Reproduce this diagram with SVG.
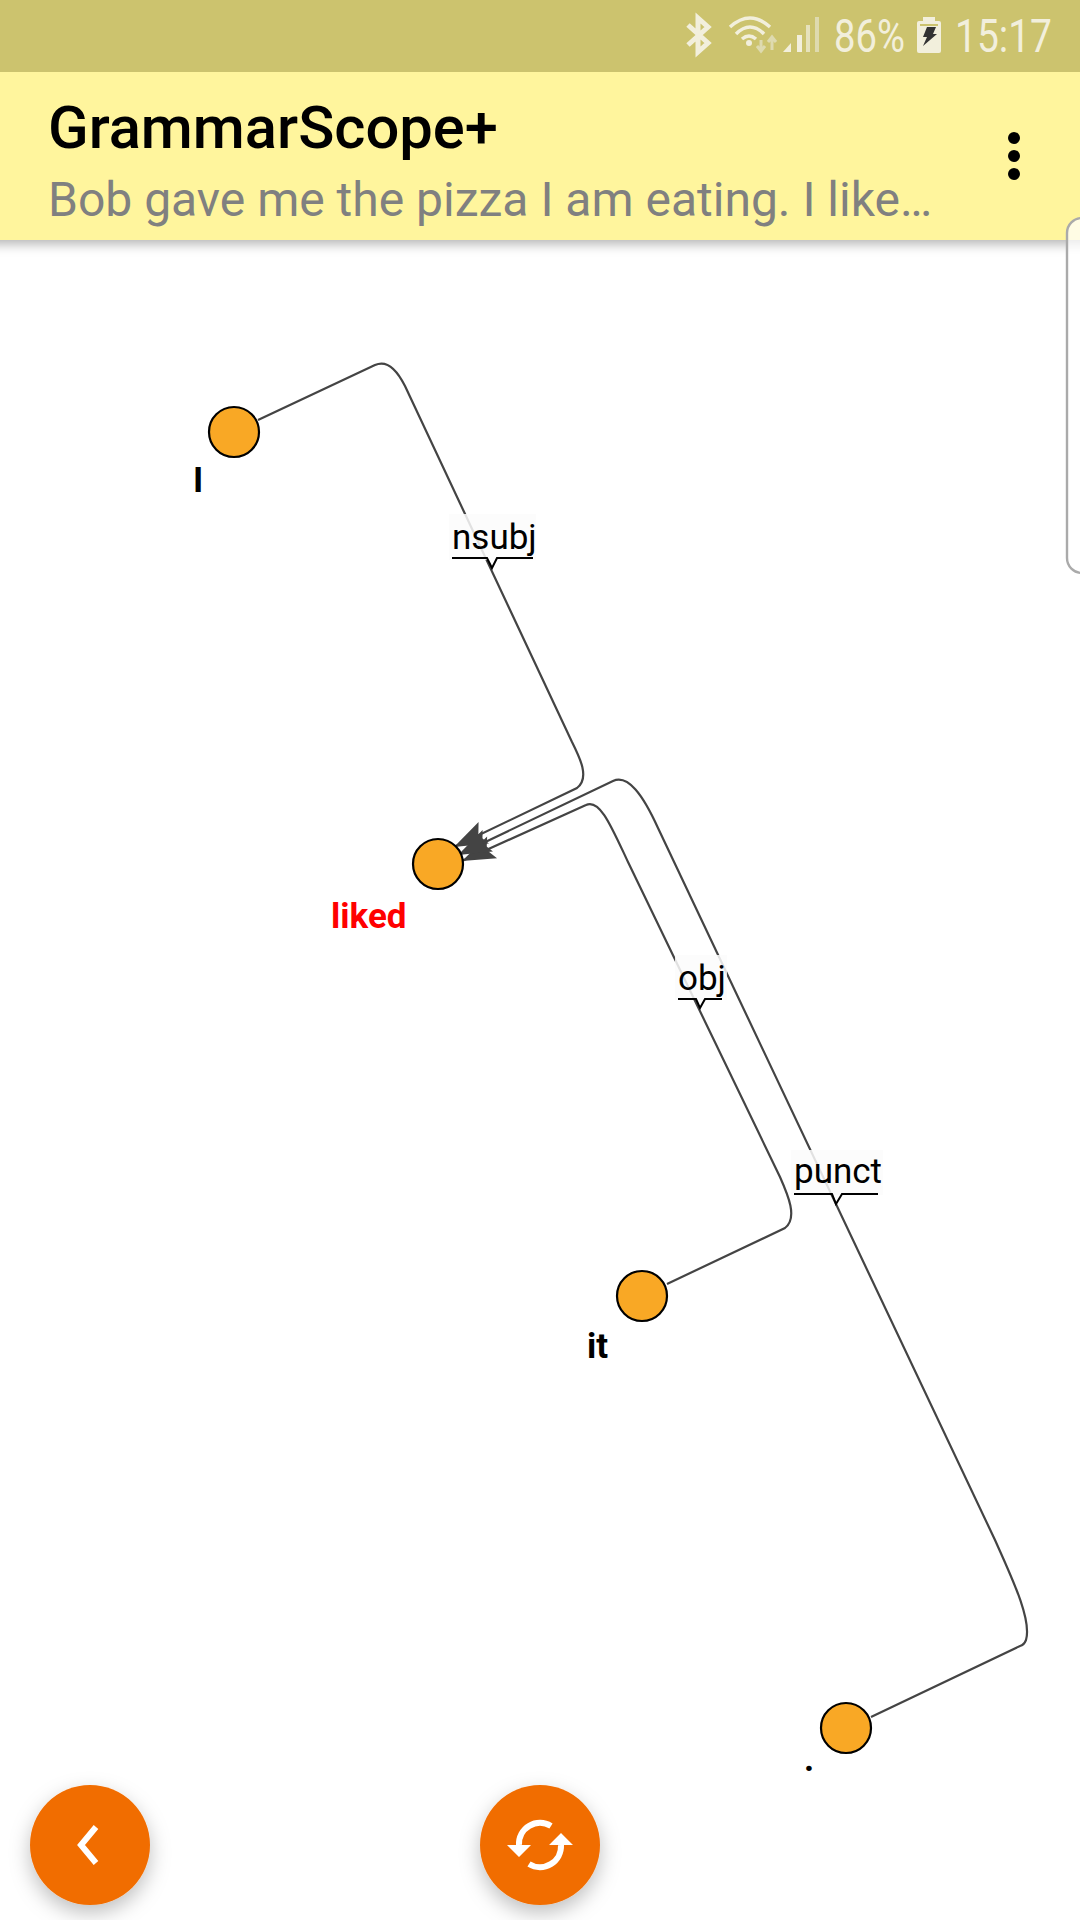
<svg xmlns="http://www.w3.org/2000/svg" width="1080" height="1920" viewBox="0 0 1080 1920">
<defs>
<style>
.edge{fill:none;stroke:#444;stroke-width:2.2}
.node{fill:#F9A825;stroke:#000;stroke-width:2.2}
.nl{font-family:Roboto,"Liberation Sans",sans-serif;font-weight:700;font-size:35px;fill:#000}
.el{font-family:Roboto,"Liberation Sans",sans-serif;font-size:35px;fill:#000}
.bg{fill:#fbfbfb;fill-opacity:.86}
.tick{fill:none;stroke:#000;stroke-width:2}
.st{font-family:Roboto,"Liberation Sans",sans-serif;font-size:47px;fill:#F2EFDC}
</style>
<marker id="arrow" markerUnits="userSpaceOnUse" markerWidth="40" markerHeight="32" refX="36" refY="16" orient="auto" overflow="visible">
<path d="M36,16 L3,4 L9,16 L3,28 Z" fill="#444"/>
</marker>
<filter id="barShadow" x="-5%" y="-20%" width="110%" height="150%"><feDropShadow dx="0" dy="4" stdDeviation="6" flood-color="#000" flood-opacity=".3"/></filter>
<filter id="fabShadow" x="-40%" y="-40%" width="180%" height="190%"><feDropShadow dx="0" dy="8" stdDeviation="10" flood-color="#000" flood-opacity=".25"/></filter>
</defs>
<rect width="1080" height="1920" fill="#fff"/>

<g id="app-bar">
<rect x="-20" y="72" width="1120" height="168" fill="#FFF59D" filter="url(#barShadow)"/>
<rect x="0" y="0" width="1080" height="72" fill="#CCC36E"/>
<text x="48" y="148" font-family="Roboto,'Liberation Sans',sans-serif" font-weight="500" font-size="59.7" fill="#000">GrammarScope+</text>
<text x="48" y="216" font-family="Roboto,'Liberation Sans',sans-serif" font-size="48" fill="#808080">Bob gave me the pizza I am eating. I like…</text>
<circle cx="1014" cy="138" r="6"/><circle cx="1014" cy="156" r="6"/><circle cx="1014" cy="174" r="6"/>
</g>

<g id="side-panel"><rect x="1067" y="218" width="40" height="355" rx="15" fill="#fff" fill-opacity=".72" stroke="#aaa" stroke-width="2.4"/></g>

<g id="status-bar">
<path d="M688,25 L708,43 L698,52 L698,18 L708,27 L688,45" fill="none" stroke="#F2EFDC" stroke-width="5"/>
<path d="M730,27 Q750,9 770,27 M736,34 Q750,20 764,34 M742,39 Q749,33 756,39" fill="none" stroke="#F2EFDC" stroke-width="3.5"/>
<circle cx="749" cy="43" r="3" fill="#F2EFDC"/>
<path d="M761,40 V50 M757,46 L761,51 L765,46 M772,50 V38 M768,42 L772,37 L776,42" fill="none" stroke="#DEDAAF" stroke-width="3"/>
<path d="M783,52 L791,43 V52 Z" fill="#F2EFDC"/>
<rect x="797" y="35" width="5" height="17" fill="#F2EFDC"/>
<rect x="806" y="25" width="4" height="27" fill="#E6E2BC"/>
<rect x="815" y="17" width="4" height="35" fill="#DEDAAF"/>
<text class="st" x="834" y="52" textLength="71" lengthAdjust="spacingAndGlyphs">86%</text>
<rect x="917" y="21" width="24" height="32" rx="2" fill="#F2EFDC"/><rect x="923" y="17" width="12" height="5" fill="#F2EFDC"/>
<path d="M920,25 H938" stroke="#CCC36E" stroke-width="2"/>
<path d="M927,27 L936,27 L933,34 L937,34 L923,46 L927,37 L923,37 Z" fill="#333"/>
<text class="st" x="955" y="52" textLength="97" lengthAdjust="spacingAndGlyphs">15:17</text>
</g>

<g id="connectors">
<path class="edge" marker-end="url(#arrow)" d="M258,420 L375,365 C386,360 396,368 405,386 L572,742 C580,758 590,778 577,788 L454,847"/>
<path class="edge" marker-end="url(#arrow)" d="M667,1284 L785,1228 C798,1218 788,1195 780,1177 L628,862 C612,828 600,798 586,805 L462,861"/>
<path class="edge" marker-end="url(#arrow)" d="M871,1717 L1020,1646 Q1024,1645 1026,1640 C1032,1620 1012,1578 995,1540 L658,828 C643,795 628,774 613,781 L458,855"/>
</g>

<g id="label-nsubj">
<rect class="bg" x="449" y="514" width="87" height="46"/>
<text class="el" x="452" y="549">nsubj</text>
<path class="tick" d="M452,558 H487 L492,568 L497,558 H533"/>
</g>
<g id="label-obj">
<rect class="bg" x="675" y="955" width="52" height="45"/>
<text class="el" x="678" y="990">obj</text>
<path class="tick" d="M678,999 H696 L700,1008 L705,999 H722"/>
</g>
<g id="label-punct">
<rect class="bg" x="791" y="1150" width="92" height="45"/>
<text class="el" x="794" y="1183">punct</text>
<path class="tick" d="M794,1194 H832 L836,1204 L842,1194 H878"/>
</g>

<g id="node-I"><circle class="node" cx="234" cy="432" r="25"/><text class="nl" x="193" y="492">I</text></g>
<g id="node-liked"><circle class="node" cx="438" cy="864" r="25"/><text class="nl" x="331" y="928" style="fill:#f00">liked</text></g>
<g id="node-it"><circle class="node" cx="642" cy="1296" r="25"/><text class="nl" x="587" y="1358">it</text></g>
<g id="node-dot"><circle class="node" cx="846" cy="1728" r="25"/><text class="nl" x="804" y="1771">.</text></g>

<g id="fab-back">
<circle cx="90" cy="1845" r="60" fill="#F16D00" filter="url(#fabShadow)"/>
<path d="M96,1827 L81,1845 L96,1863" fill="none" stroke="#fff" stroke-width="6"/>
</g>
<g id="fab-refresh">
<circle cx="540" cy="1845" r="60" fill="#F16D00" filter="url(#fabShadow)"/>
<path d="M551,1826 A21,21 0 0 0 519,1845 M529,1864 A21,21 0 0 0 561,1845" fill="none" stroke="#fff" stroke-width="6"/>
<path d="M507,1845 H531 L519,1857 Z M549,1845 H573 L561,1833 Z" fill="#fff"/>
</g>
</svg>
